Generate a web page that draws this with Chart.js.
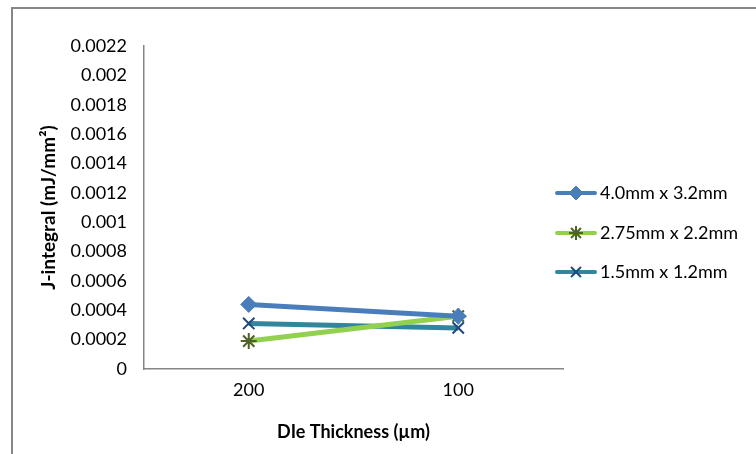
<!DOCTYPE html>
<html>
<head>
<meta charset="utf-8">
<script src="https://cdn.jsdelivr.net/npm/chart.js@4/dist/chart.umd.min.js"></script>
<style>
html,body{margin:0;padding:0;background:#fff;}
#wrap{position:relative;width:756px;height:454px;}
</style>
</head>
<body>
<div id="wrap"><canvas id="c" width="756" height="454"></canvas></div>
<script>
const categories = ['200', '100'];
const seriesNames = ['4.0mm x 3.2mm', '2.75mm x 2.2mm', '1.5mm x 1.2mm'];
const series1 = [0.00044, 0.00036];
const series2 = [0.00019, 0.00036];
const series3 = [0.00031, 0.00028];
const yTickLabels = ['0', '0.0002', '0.0004', '0.0006', '0.0008', '0.001', '0.0012', '0.0014', '0.0016', '0.0018', '0.002', '0.0022'];
const yTitle = 'J-integral (mJ/mm\u00B2)';
const xTitle = 'DIe Thickness (\u00B5m)';

const FONT = 'Lato, "Open Sans", sans-serif';

const frameAndLegend = {
  id: 'frameAndLegend',
  beforeDraw(chart) {
    const ctx = chart.ctx;
    ctx.save();
    ctx.fillStyle = '#fff';
    ctx.fillRect(0, 0, chart.width, chart.height);
    ctx.strokeStyle = '#868686';
    ctx.lineWidth = 2;
    ctx.beginPath();
    ctx.moveTo(12, 454);
    ctx.lineTo(12, 8);
    ctx.lineTo(756, 8);
    ctx.stroke();
    ctx.restore();
  },
  afterDraw(chart) {
    const ctx = chart.ctx;
    const rows = [193, 233, 272];
    ctx.save();
    chart.data.datasets.forEach((ds, i) => {
      const y = rows[i];
      ctx.strokeStyle = ds.borderColor;
      ctx.lineWidth = 4;
      ctx.lineCap = 'round';
      ctx.beginPath();
      ctx.moveTo(557, y);
      ctx.lineTo(595, y);
      ctx.stroke();
      ctx.fillStyle = ds.pointBackgroundColor;
      ctx.strokeStyle = ds.pointBorderColor;
      ctx.lineWidth = ds.pointBorderWidth;
      ctx.lineCap = 'butt';
      Chart.helpers.drawPoint(ctx, {
        pointStyle: ds.pointStyle,
        radius: 7,
        borderWidth: ds.pointBorderWidth
      }, 576, y);
      ctx.fillStyle = '#000';
      ctx.font = '18px ' + FONT;
      ctx.textBaseline = 'middle';
      ctx.textAlign = 'left';
      ctx.fillText(ds.label, 600, y);
    });
    ctx.restore();
  }
};

new Chart(document.getElementById('c'), {
  type: 'line',
  data: {
    labels: categories,
    datasets: [
      {
        label: seriesNames[0], data: series1,
        borderColor: '#4A7EBB', borderWidth: 5,
        pointStyle: 'rectRot', pointRadius: 8,
        pointBackgroundColor: '#4A7EBB', pointBorderColor: '#4A7EBB', pointBorderWidth: 1
      },
      {
        label: seriesNames[1], data: series2,
        borderColor: '#92D050', borderWidth: 5,
        pointStyle: 'star', pointRadius: 8,
        pointBackgroundColor: '#4F6228', pointBorderColor: '#4F6228', pointBorderWidth: 2
      },
      {
        label: seriesNames[2], data: series3,
        borderColor: '#31859C', borderWidth: 5,
        pointStyle: 'crossRot', pointRadius: 8,
        pointBackgroundColor: '#1F497D', pointBorderColor: '#1F497D', pointBorderWidth: 2
      }
    ]
  },
  options: {
    responsive: false,
    animation: false,
    devicePixelRatio: 1,
    layout: { padding: { left: 0, right: 193, top: 46, bottom: 0 } },
    plugins: { legend: { display: false }, tooltip: { enabled: false } },
    elements: { line: { tension: 0 } },
    scales: {
      x: {
        type: 'category',
        offset: true,
        afterFit: s => { s.height = 85; },
        grid: { display: true, color: 'rgba(0,0,0,0)', drawTicks: false },
        border: { display: true, color: '#868686', width: 1.5 },
        ticks: { color: '#000', font: { family: FONT, size: 18 }, padding: 10, maxRotation: 0 },
        title: { display: true, text: xTitle, color: '#000', font: { family: FONT, size: 18, weight: 'bold' }, padding: { top: 0, bottom: 11 } }
      },
      y: {
        min: 0, max: 0.0022,
        afterFit: s => { s.width = 144; },
        afterBuildTicks: s => {
          s.ticks = yTickLabels.map(t => ({ value: parseFloat(t) }));
        },
        grid: { display: true, color: 'rgba(0,0,0,0)', drawTicks: false },
        border: { display: true, color: '#868686', width: 1.5 },
        ticks: {
          color: '#000', font: { family: FONT, size: 18 }, padding: 17,
          callback: (v, i) => yTickLabels[i]
        },
        title: { display: true, text: yTitle, color: '#000', font: { family: FONT, size: 19, weight: 'bold' }, padding: { top: 37, bottom: 0 } }
      }
    }
  },
  plugins: [frameAndLegend]
});
</script>
</body>
</html>
